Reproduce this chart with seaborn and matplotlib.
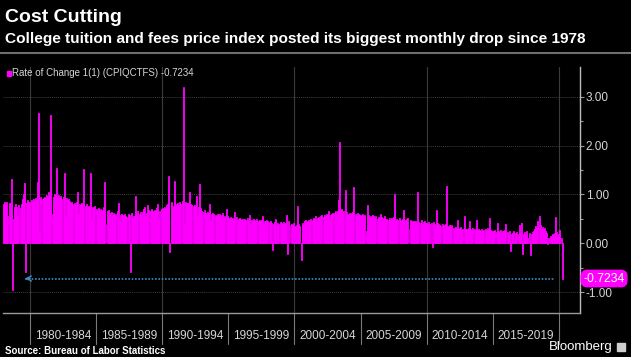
import numpy as np
import pandas as pd
import matplotlib
matplotlib.use("Agg")
import matplotlib.pyplot as plt
import seaborn as sns
from matplotlib.lines import Line2D
from matplotlib.patches import Rectangle
from matplotlib import transforms

# Monthly rate of change (%) of the college tuition & fees CPI
rate_1978_1989 = [
    0.80, 0.84, 0.78, 0.85, 0.55, 0.82, 0.80, 1.32, -0.95, 0.50, 0.75, 0.80,   # 1978
    0.75, 0.55, 0.78, 0.72, 0.80, 0.90, 1.00, 1.23, -0.60, 0.82, 0.88, 0.85,   # 1979
    0.85, 0.88, 0.84, 0.90, 0.86, 0.92, 0.88, 1.25, 2.66, 0.20, 0.95, 0.90,    # 1980
    0.92, 0.95, 0.90, 0.98, 0.94, 1.05, 0.96, 2.62, 0.60, 0.95, 1.00, 0.98,    # 1981
    1.54, 0.95, 0.98, 0.92, 0.96, 0.90, 0.94, 1.43, 0.55, 0.92, 0.88, 0.90,    # 1982
    0.86, 0.82, 0.84, 0.80, 0.83, 0.78, 0.85, 1.05, 0.60, 0.80, 0.78, 0.82,    # 1983
    0.78, 1.53, 0.76, 0.80, 0.74, 0.77, 0.72, 1.44, 0.50, 0.75, 0.73, 0.76,    # 1984
    0.70, 0.68, 0.72, 0.66, 0.70, 0.65, 0.68, 0.75, 1.25, 0.40, 0.66, 0.68,    # 1985
    0.62, 0.60, 0.64, 0.58, 0.61, 0.57, 0.60, 0.65, 0.83, 0.45, 0.58, 0.60,    # 1986
    0.58, 0.55, 0.60, 0.56, 0.54, 0.59, 0.57, -0.58, 0.62, 0.52, 0.56, 0.55,   # 1987
    0.97, 0.62, 0.66, 0.60, 0.64, 0.58, 0.63, 0.70, 0.75, 0.55, 0.62, 0.78,    # 1988
    0.68, 0.65, 0.70, 0.66, 0.64, 0.69, 0.67, 0.72, 0.80, 0.50, 0.66, 0.70,    # 1989
]
rate_1990_1999 = [
    0.72, 0.70, 0.75, 0.73, 0.78, 0.80, 1.37, -0.19, 0.85, 0.76, 0.74, 1.27,   # 1990
    0.80, 0.78, 0.82, 0.76, 0.84, 0.80, 0.86, 3.20, 0.40, 0.85, 0.80, 0.82,    # 1991
    0.82, 1.04, 0.80, 0.78, 0.76, 0.79, 0.75, 0.96, 0.55, 0.74, 1.21, 0.72,    # 1992
    0.66, 0.63, 0.68, 0.62, 0.60, 0.64, 0.61, 0.81, 0.45, 0.60, 0.62, 0.59,    # 1993
    0.58, 0.55, 0.59, 0.56, 0.60, 0.54, 0.57, 0.62, 0.50, 0.56, 0.70, 0.55,    # 1994
    0.52, 0.50, 0.54, 0.49, 0.51, 0.48, 0.64, 0.53, 0.45, 0.50, 0.52, 0.49,    # 1995
    0.48, 0.50, 0.46, 0.49, 0.47, 0.52, 0.45, 0.58, 0.40, 0.48, 0.46, 0.50,    # 1996
    0.47, 0.45, 0.49, 0.46, 0.48, 0.44, 0.47, 0.56, 0.38, 0.46, 0.45, 0.48,    # 1997
    0.45, 0.43, 0.46, 0.42, -0.13, 0.40, 0.44, 0.50, 0.36, 0.42, 0.40, 0.43,   # 1998
    0.42, 0.40, 0.44, 0.39, 0.41, 0.57, -0.22, 0.45, 0.38, 0.40, 0.37, 0.41,   # 1999
]
rate_2000_2009 = [
    0.35, 0.33, 0.38, 0.76, 0.40, 0.36, -0.34, 0.42, 0.38, 0.45, 0.47, 0.44,   # 2000
    0.46, 0.48, 0.45, 0.50, 0.47, 0.52, 0.49, 0.55, 0.44, 0.51, 0.53, 0.50,    # 2001
    0.55, 0.57, 0.54, 0.58, 0.56, 0.60, 0.57, 0.65, 0.50, 0.58, 0.60, 0.62,    # 2002
    0.62, 0.65, 0.60, 0.66, 0.88, 2.07, 0.68, 0.70, 0.64, 0.66, 1.09, 0.63,    # 2003
    0.60, 0.58, 0.62, 0.57, 0.61, 0.64, 1.15, 0.59, 0.55, 0.62, 0.60, 0.58,    # 2004
    0.58, 0.56, 0.59, 0.55, 0.57, 0.25, 0.78, 0.57, 0.52, 0.56, 0.54, 0.57,    # 2005
    0.55, 0.52, 0.56, 0.50, 0.53, 0.51, 0.60, 0.54, 0.48, 0.52, 0.55, 0.50,    # 2006
    0.50, 0.48, 0.52, 0.47, 0.51, 0.49, 0.53, 1.00, 0.45, 0.50, 0.48, 0.52,    # 2007
    0.48, 0.46, 0.50, 0.68, 0.47, 0.45, 0.49, 0.52, 0.30, 0.47, 0.44, 0.46,    # 2008
    0.45, 0.43, 0.46, 0.42, 1.05, 0.44, 0.41, 0.48, 0.40, 0.43, 0.45, 0.42,    # 2009
]
rate_2010_2020 = [
    0.42, 0.40, 0.43, 0.39, 0.41, -0.08, 0.44, 0.40, 0.38, 0.68, 0.41, 0.39,   # 2010
    0.38, 0.36, 0.40, 0.35, 0.37, 0.39, 1.17, 0.36, 0.33, 0.38, 0.35, 0.37,    # 2011
    0.32, 0.30, 0.33, 0.29, 0.47, 0.31, 0.28, 0.34, 0.27, 0.30, 0.55, 0.29,    # 2012
    0.30, 0.28, 0.31, 0.46, 0.29, 0.27, 0.32, 0.30, 0.26, 0.48, 0.28, 0.30,    # 2013
    0.28, 0.26, 0.29, 0.25, 0.27, 0.30, 0.26, 0.31, 0.24, 0.51, 0.27, 0.25,    # 2014
    0.26, 0.24, 0.27, 0.23, 0.42, 0.25, 0.22, 0.28, 0.21, 0.26, 0.24, 0.27,    # 2015
    0.40, 0.22, 0.20, 0.24, -0.15, 0.18, 0.21, 0.25, 0.05, 0.20, 0.23, 0.19,   # 2016
    0.38, 0.20, 0.42, -0.22, 0.18, 0.22, 0.15, 0.25, 0.10, 0.20, -0.24, 0.18,  # 2017
    0.22, 0.25, 0.30, 0.35, 0.32, 0.45, 0.55, 0.38, 0.30, 0.34, 0.28, 0.31,    # 2018
    0.26, 0.20, -0.02, 0.10, 0.15, 0.12, 0.18, 0.16, 0.20, 0.53, 0.22, 0.15,   # 2019
    0.18, 0.28, 0.10, -0.7234,                                                 # 2020
]

period_labels = ["1980-1984", "1985-1989", "1990-1994", "1995-1999",
                 "2000-2004", "2005-2009", "2010-2014", "2015-2019"]
period_edges = [1980, 1985, 1990, 1995, 2000, 2005, 2010, 2015, 2020]
decade_lines = [1980, 1990, 2000, 2010, 2020]
y_major = [-1, 0, 1, 2, 3]
last_value = -0.7234

title = "Cost Cutting"
subtitle = "College tuition and fees price index posted its biggest monthly drop since 1978"
legend_label = "Rate of Change 1(1) (CPIQCTFS) -0.7234"
source = "Source: Bureau of Labor Statistics"

MAGENTA = "#ff00ff"
GRID = "#3c3c3c"
TEXT = "#d6d6d6"

values = rate_1978_1989 + rate_1990_1999 + rate_2000_2009 + rate_2010_2020
dates = pd.date_range("1978-01-01", periods=len(values), freq="MS")
df = pd.DataFrame({
    "t": dates.year + (dates.month - 1) / 12.0,
    "rate": values,
})

sns.set_style("dark")
plt.rcParams["font.family"] = ["Liberation Sans", "DejaVu Sans"]

W, H = 631, 357
fig = plt.figure(figsize=(W / 100, H / 100), dpi=100, facecolor="black")
ax = fig.add_axes([3 / W, 1 - 313 / H, 577 / W, 246 / H])
ax.set_facecolor("black")

# gridlines first so bars sit on top
for y in [-1, 1, 2, 3]:
    ax.axhline(y, color=GRID, lw=0.7, ls=(0, (1, 1)), zorder=0)
for x in decade_lines:
    ax.axvline(x, color=GRID, lw=0.8, zorder=0)

sns.barplot(data=df, x="t", y="rate", native_scale=True, color=MAGENTA,
            saturation=1, width=0.9, linewidth=0.6, edgecolor=MAGENTA,
            errorbar=None, ax=ax, zorder=2)

ax.set_xlim(1977.96, 2021.6)
ax.set_ylim(-1.43, 3.61)
ax.grid(False)

# dotted arrow pointing back to the 1978 level
ax.plot([1979.6, 2019.6], [last_value, last_value], color="#3d8cc4",
        lw=1.2, ls=(0, (1, 1)), zorder=3)
ax.annotate("", xy=(1979.4, last_value), xytext=(1980.2, last_value),
            arrowprops=dict(arrowstyle="->", color="#3d8cc4", lw=1.0,
                            mutation_scale=9), zorder=3)

# axes styling
for side in ["top", "left"]:
    ax.spines[side].set_visible(False)
ax.spines["right"].set_color("#bdbdbd")
ax.spines["bottom"].set_color("#9a9a9a")
ax.spines["right"].set_linewidth(1.0)
ax.spines["bottom"].set_linewidth(1.0)

ax.yaxis.tick_right()
ax.set_yticks(y_major)
ax.set_yticklabels([f"{v:.2f}" for v in y_major])
ax.set_yticks([-0.5, 0.5, 1.5, 2.5], minor=True)
ax.tick_params(axis="y", which="both", direction="out", colors="#9a9a9a",
               labelcolor=TEXT, labelsize=8.5, length=3, width=0.8, pad=1)
ax.tick_params(axis="y", which="minor", length=2)

ax.set_xticks([(a + b) / 2 for a, b in zip(period_edges[:-1], period_edges[1:])])
ax.set_xticklabels(period_labels)
ax.tick_params(axis="x", length=0, labelcolor=TEXT, labelsize=8.5, pad=12)
ax.set_xlabel("")
ax.set_ylabel("")

# period separators below the axis
xtrans = ax.get_xaxis_transform()
for x in period_edges:
    ax.plot([x, x], [0, -0.125], color="#7a7a7a", lw=0.8,
            transform=xtrans, clip_on=False)

# last value tag
tag_trans = transforms.blended_transform_factory(ax.transAxes, ax.transData)
ax.text(1.006, last_value, "-0.7234", transform=tag_trans, ha="left", va="center",
        color="white", fontsize=8.8,
        bbox=dict(boxstyle="round,pad=0.18,rounding_size=0.5", fc=MAGENTA,
                  ec=MAGENTA))

# header
fig.text(5 / W, 1 - 18 / H, title, color="white", fontsize=14,
         fontweight="bold", va="center", ha="left")
fig.text(5 / W, 1 - 39 / H, subtitle, color="white", fontsize=11.1,
         fontweight="bold", va="center", ha="left")
fig.add_artist(Line2D([0, 1], [1 - 53 / H, 1 - 53 / H], color="#6e6e6e", lw=1.5))

# legend
fig.add_artist(Rectangle((7 / W, 1 - 76 / H), 4 / W, 5 / H, color=MAGENTA,
                         transform=fig.transFigure))
fig.text(12 / W, 1 - 73.5 / H, legend_label, color=TEXT, fontsize=7,
         va="center", ha="left")

# footer
fig.text(5 / W, 1 - 351 / H, source, color="white", fontsize=7,
         fontweight="bold", va="center", ha="left")
fig.text(613 / W, 1 - 347 / H, "Bloomberg", color="white", fontsize=9.5,
         va="center", ha="right")
fig.add_artist(Rectangle((617 / W, 1 - 351 / H), 8 / W, 8 / H, color="#cfcfcf",
                         transform=fig.transFigure))

fig.savefig("out.png", dpi=100, facecolor="black")
